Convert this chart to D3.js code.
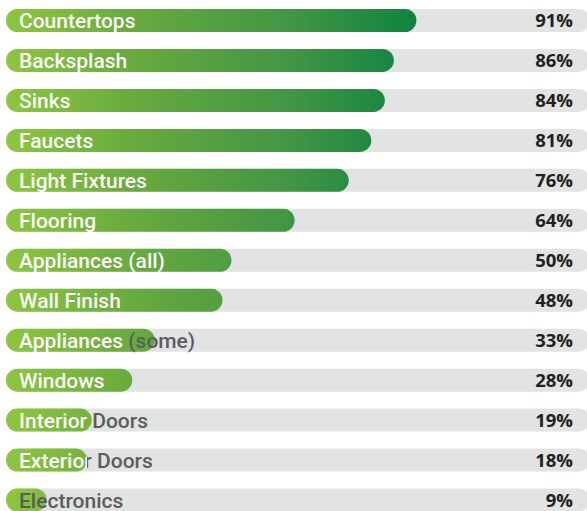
<!DOCTYPE html>
<html lang="en">
<head>
    <meta charset="UTF-8">
    <title>Kitchen Items Bar Chart</title>
    <script src="https://d3js.org/d3.v7.min.js"></script>
    <style>
        html, body { margin: 0; padding: 0; background: #fff; }
        .label { font-family: Roboto, sans-serif; font-weight: 500; font-size: 21px; }
        .pct { font-family: "Open Sans", sans-serif; font-weight: 700; font-size: 18.5px; fill: #231f20; }
    </style>
</head>
<body>
    <svg id="chart"></svg>
    <script>
        const width = 587;
        const height = 511;

        const categories = ['Countertops', 'Backsplash', 'Sinks', 'Faucets', 'Light Fixtures', 'Flooring',
            'Appliances (all)', 'Wall Finish', 'Appliances (some)', 'Windows', 'Interior Doors',
            'Exterior Doors', 'Electronics'];
        const values = [91, 86, 84, 81, 76, 64, 50, 48, 33, 28, 19, 18, 9];

        const data = categories.map((c, i) => ({ name: c, value: values[i] }));

        const svg = d3.select('#chart')
            .attr('width', width)
            .attr('height', height);

        const barH = 23;
        const gray = '#5b5c5e';

        const x = d3.scaleLinear().domain([0, 100]).range([6, 457]);
        const y = d3.scalePoint().domain(categories).range([20.5, 500]);

        const defs = svg.append('defs');

        // gradient runs across the whole chart, light green on the left
        const grad = defs.append('linearGradient')
            .attr('id', 'barGrad')
            .attr('gradientUnits', 'userSpaceOnUse')
            .attr('x1', 6).attr('x2', 418).attr('y1', 0).attr('y2', 0);
        grad.append('stop').attr('offset', '0%').attr('stop-color', '#8dc63f');
        grad.append('stop').attr('offset', '30%').attr('stop-color', '#69ab3e');
        grad.append('stop').attr('offset', '70%').attr('stop-color', '#409544');
        grad.append('stop').attr('offset', '100%').attr('stop-color', '#0f8241');

        // text fill per row: white up to the bar end, gray after (hard stop)
        const textGrads = defs.selectAll('.tg')
            .data(data)
            .enter().append('linearGradient')
            .attr('class', 'tg')
            .attr('id', (d, i) => 'tg' + i)
            .attr('gradientUnits', 'userSpaceOnUse')
            .attr('x1', 0).attr('x2', width).attr('y1', 0).attr('y2', 0);
        textGrads.append('stop').attr('offset', d => x(d.value) / width).attr('stop-color', '#ffffff');
        textGrads.append('stop').attr('offset', d => x(d.value) / width).attr('stop-color', gray);

        const rows = svg.selectAll('.row')
            .data(data)
            .enter().append('g')
            .attr('class', 'row')
            .attr('transform', d => `translate(0,${y(d.name)})`);

        // gray track
        rows.append('rect')
            .attr('x', 6)
            .attr('y', -barH / 2)
            .attr('width', 584)
            .attr('height', barH)
            .attr('rx', barH / 2)
            .attr('fill', '#e2e3e3');

        // green bar
        rows.append('rect')
            .attr('x', x(0))
            .attr('y', -barH / 2)
            .attr('width', d => x(d.value) - x(0))
            .attr('height', barH)
            .attr('rx', barH / 2)
            .attr('fill', 'url(#barGrad)');

        // label, one tspan per word; words that run past the bar stay gray
        const labels = rows.append('text')
            .attr('class', 'label')
            .attr('x', 19)
            .attr('y', 7.5);

        labels.each(function (d, k) {
            const t = d3.select(this);
            const words = d.name.split(' ');
            words.forEach((w, i) => {
                t.append('tspan').text(i < words.length - 1 ? w + ' ' : w);
            });
            const end = x(d.value);
            t.selectAll('tspan').each(function () {
                const box = this.getBBox();
                const txt = this.textContent.trimEnd();
                const w = this.getSubStringLength(0, txt.length);
                // a few px of slack, the last letter may touch the bar end
                d3.select(this).attr('fill', box.x + w <= end + 6 ? `url(#tg${k})` : gray);
            });
        });

        // percentage
        rows.append('text')
            .attr('class', 'pct')
            .attr('x', 573)
            .attr('y', 6.5)
            .attr('text-anchor', 'end')
            .text(d => d.value + '%');
    </script>
</body>
</html>
